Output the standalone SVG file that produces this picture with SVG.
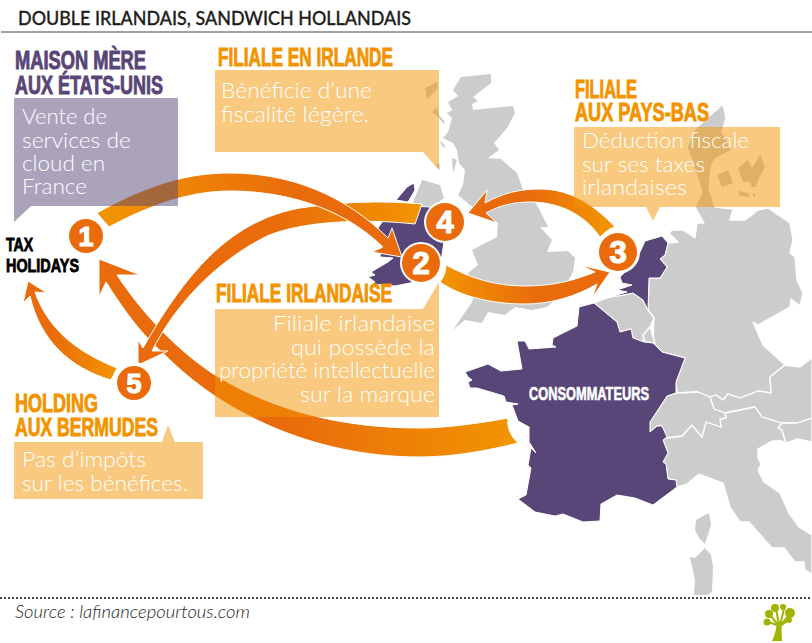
<svg xmlns="http://www.w3.org/2000/svg" width="812" height="643" viewBox="0 0 812 643">
<style>
.g{fill:#ccc;stroke:none}
.b{fill:#ccc;stroke:#fff;stroke-width:1.3;stroke-linejoin:round}
.p{fill:#584678;stroke:#fff;stroke-width:1}
.o{fill:#f29400;fill-opacity:.5}
.v{fill:#584678;fill-opacity:.5}
.h{font-family:"Liberation Sans Narrow","Liberation Sans",sans-serif;font-weight:700;font-size:25px;fill:#f29400;stroke:#f29400;stroke-width:.9}
.hv{fill:#584678;stroke:#584678}
.t{font-family:"Lato","Open Sans",sans-serif;font-weight:300;font-size:22px;fill:#fff}
.k{font-family:"Liberation Sans Narrow","Liberation Sans",sans-serif;font-weight:700;font-size:18px}
.a{stroke:#fff;stroke-width:1;stroke-linejoin:miter}
.d{font-family:"Liberation Sans Narrow","Liberation Sans",sans-serif;font-weight:700;font-size:31px;fill:#fff;text-anchor:middle;stroke:#fff;stroke-width:1.2}
</style>
<defs>
<linearGradient id="g1" gradientUnits="userSpaceOnUse" x1="105" y1="0" x2="300" y2="0"><stop offset="0" stop-color="#f29400"/><stop offset="1" stop-color="#e96b0c"/></linearGradient>
<linearGradient id="g4" gradientUnits="userSpaceOnUse" x1="420" y1="0" x2="270" y2="0"><stop offset="0" stop-color="#f29400"/><stop offset="1" stop-color="#e96b0c"/></linearGradient>
<linearGradient id="gc" gradientUnits="userSpaceOnUse" x1="515" y1="0" x2="280" y2="0"><stop offset="0" stop-color="#f29400"/><stop offset="1" stop-color="#e96b0c"/></linearGradient>
<linearGradient id="g5" gradientUnits="userSpaceOnUse" x1="115" y1="0" x2="50" y2="0"><stop offset="0" stop-color="#f29400"/><stop offset="1" stop-color="#e96b0c"/></linearGradient>
<linearGradient id="g2" gradientUnits="userSpaceOnUse" x1="442" y1="0" x2="540" y2="0"><stop offset="0" stop-color="#f29400"/><stop offset="1" stop-color="#e96b0c"/></linearGradient>
<linearGradient id="g3" gradientUnits="userSpaceOnUse" x1="610" y1="0" x2="530" y2="0"><stop offset="0" stop-color="#f29400"/><stop offset="1" stop-color="#e96b0c"/></linearGradient>
</defs>
<rect width="812" height="643" fill="#fff"/>

<g id="map">
<polygon class="g" points="461,77 491,74 491,83 473,97 478,101 472,104 473,110 513,106 515,113 507,128 494,143 499,150 488,158 501,159 517,173 523,190 537,205 548,227 540,227 552,240 547,252 568,251 575,258 573,272 560,295 547,307 532,310 515,307 505,315 488,312 482,323 465,320 453,330 472,302 476,290 468,273 478,265 472,250 497,237 498,223 470,205 458,195 463,185 465,170 459,163 457,150 453,143 443,138 448,132 452,118 447,113 452,110 448,102 458,96 453,90"/>
<polygon class="g" points="425,88 437,82 438,88 427,99"/>
<polygon class="g" points="432,112 437,107 439,115 445,122 444,124 437,116"/>
<polygon class="g" points="440,140 445,146 444,148 441,144"/>
<polygon class="g" points="452,158 457,160 453,173"/>
<polygon class="g" points="436,166 439,162 440,170"/>
<polygon class="g" points="422,180 440,185 444,198 430,208 412,205 418,190"/>
<polygon class="p" stroke="none" points="414,183 415,190 408,202 396,200 402,193 407,187"/>
<polygon class="p" points="380,225 394,205 430,207 445,235 441,262 425,280 395,286 372,284 375,282 368,277 375,275 371,272 388,262 393,258 380,257 382,238 378,228"/>
<polygon class="b" points="723,104 726,118 722,132 732,150 715,159 711,167 709,188 715,207 733,209 730,220 745,220 758,210 768,208 790,223 793,240 790,253 795,257 797,280 803,293 800,306 791,299 790,307 758,325 753,322 763,345 785,365 770,377 771,393 758,391 740,398 728,394 723,400 716,395 710,397 698,392 677,393 676,382 685,358 662,352 653,343 654,318 648,310 649,278 660,278 667,267 660,259 665,255 668,243 678,242 669,233 672,230 683,230 695,238 697,223 704,223 695,207 702,192 693,163 687,147 695,129"/>
<polygon class="g" points="717,175 728,170 733,183 722,187"/>
<polygon class="g" points="738,168 748,160 752,168 760,155 765,167 758,180 756,187 752,187 750,182 743,182"/>
<polygon class="g" points="738,191 748,193 750,197 740,196"/>
<polygon class="g" points="752,193 755,194 755,198"/>
<polygon class="b" points="785,365 800,367 812,358 812,418 797,423 782,423 762,417 755,407 725,413 714,409 710,397 716,395 723,400 728,394 740,398 758,391 771,393 770,377"/>
<polygon class="b" points="725,413 755,407 762,417 782,423 778,428 782,430 786,443 782,441 772,441 758,449 758,458 761,464 758,470 764,482 780,493 789,513 799,527 812,535 812,574 805,570 804,562 795,562 784,548 772,548 749,522 740,522 730,507 723,483 699,474 687,484 677,487 676,480 668,479 666,464 663,462 668,453 663,440 665,438 682,436 692,425 702,437 706,422 721,427 720,419 726,418"/>
<polygon class="b" points="782,423 797,423 812,418 812,442 797,439 786,443 782,430 778,428"/>
<polygon class="b" points="667,396 677,393 698,392 710,397 714,409 725,413 726,418 720,419 721,427 706,422 702,437 692,425 682,436 665,438 662,426 657,426 650,432 650,422"/>
<polygon class="b" points="594,303 610,297 623,295 633,293 643,300 648,310 654,318 650,327 643,335 644,342 633,338 631,329 620,332 617,322"/>
<polygon class="b" points="650,327 643,335 645,342 655,343"/>
<polygon class="g" points="696,520 709,513 711,525 705,544 699,538 695,530"/>
<polygon class="g" points="705,548 711,555 713,567 712,592 707,595 694,595 695,580 690,557 695,558"/>
<polygon class="p" points="662,236 668,243 665,255 660,259 667,267 660,278 649,278 648,310 643,300 633,293 623,295 610,297 627,292 617,290 632,285 622,283 620,277 629,268 640,252 645,241"/>
</g>

<g id="france">
<polygon class="p" points="594,303 617,322 620,332 631,329 633,338 644,342 653,343 662,352 685,358 676,382 676,393 667,396 650,422 650,432 657,426 662,426 667,437 663,440 668,453 663,462 666,464 668,479 676,480 677,487 653,505 635,498 617,495 601,504 600,521 583,522 563,514 555,516 535,512 518,499 526,495 531,468 528,465 531,448 536,453 529,442 529,427 518,421 512,405 518,404 506,402 504,396 477,388 470,388 468,382 472,380 468,377 465,372 488,364 501,371 522,369 517,341 525,341 529,349 556,347 552,345 553,338 577,326 579,307"/>
<text x="529" y="400" class="k" fill="#fff" stroke="#fff" stroke-width=".6" textLength="120" lengthAdjust="spacingAndGlyphs">CONSOMMATEURS</text>
</g>

<g id="title">
<text x="18" y="25" font-family="Lato,'Open Sans',sans-serif" font-weight="500" font-size="19.5" fill="#1d1d1b" stroke="#1d1d1b" stroke-width=".3" textLength="393" lengthAdjust="spacingAndGlyphs">DOUBLE IRLANDAIS, SANDWICH HOLLANDAIS</text>
<line x1="1" y1="32" x2="812" y2="32" stroke="#444" stroke-width="1"/>
</g>

<g id="connectors">
<path class="a" fill="url(#gc)" d="M508,418 C470,425 440,428 420,428 C340,428 275,410 220,378 C190,360 150,325 117,275 L140,275 L99,259 L99,297 L106,282 C130,320 145,337 167,357 C220,410 310,457 420,457 C455,457 490,450 518,443 C510,435 507,428 508,418 Z"/>
<path class="a" fill="url(#g4)" d="M422,204 C380,200 340,202 300,208 C235,220 190,265 143,348 L138,340 L138,365 L168,351 L152,351 C175,305 215,262 267,236 C300,222 360,218 415,224 Z"/>
<path class="a" fill="url(#g1)" d="M97,213 C150,183 190,173 230,173 C290,173 345,195 388,238 L392,228 L402,257 L372,252 L383,247 C340,205 280,191 230,191 C190,191 150,205 109,227 Z"/>
<path class="a" fill="url(#g5)" d="M117,368 C85,355 50,335 35,292 L47,293 L28,281 L23,303 L30,296 C40,340 70,368 111,380 Z"/>
<path class="a" fill="url(#g2)" d="M446,265 C470,278 495,286 525,286 C555,286 575,280 595,272 L580,265 L610,272 L592,298 L597,284 C575,297 550,304 525,304 C490,304 460,296 440,282 C444,277 446,271 446,265 Z"/>
<path class="a" fill="url(#g3)" d="M615,227 C590,200 565,189 540,189 C520,189 503,193 485,203 L487,190 L468,213 L497,223 L486,213 C500,205 515,202 530,202 C560,202 585,215 600,237 C605,232 610,228 615,227 Z"/>
</g>

<g id="node-maison-mere">
<polygon class="v" points="14,98 178,98 178,206 31,206 14,222"/>
<text class="h hv" x="15" y="69" textLength="131" lengthAdjust="spacingAndGlyphs">MAISON MÈRE</text>
<text class="h hv" x="15" y="94" textLength="148" lengthAdjust="spacingAndGlyphs">AUX ÉTATS-UNIS</text>
<text class="t" x="22" y="124" textLength="85" lengthAdjust="spacingAndGlyphs">Vente de</text>
<text class="t" x="22" y="148" textLength="109" lengthAdjust="spacingAndGlyphs">services de</text>
<text class="t" x="22" y="171" textLength="83" lengthAdjust="spacingAndGlyphs">cloud en</text>
<text class="t" x="22" y="194" textLength="65" lengthAdjust="spacingAndGlyphs">France</text>
</g>

<g id="node-filiale-irlande">
<polygon class="o" points="215,70 439,70 439,170 423,152 215,152"/>
<text class="h" x="218" y="66" textLength="175" lengthAdjust="spacingAndGlyphs">FILIALE EN IRLANDE</text>
<text class="t" x="221" y="98" textLength="151" lengthAdjust="spacingAndGlyphs">Bénéficie d’une</text>
<text class="t" x="221" y="122" textLength="148" lengthAdjust="spacingAndGlyphs">fiscalité légère.</text>
</g>

<g id="node-filiale-irlandaise">
<polygon class="o" points="215,309 423,309 439,282 439,417 215,417"/>
<text class="h" x="216" y="302" textLength="176" lengthAdjust="spacingAndGlyphs">FILIALE IRLANDAISE</text>
<text class="t" x="273" y="331" textLength="162" lengthAdjust="spacingAndGlyphs">Filiale irlandaise</text>
<text class="t" x="291" y="355" textLength="144" lengthAdjust="spacingAndGlyphs">qui possède la</text>
<text class="t" x="219" y="378" textLength="216" lengthAdjust="spacingAndGlyphs">propriété intellectuelle</text>
<text class="t" x="300" y="402" textLength="135" lengthAdjust="spacingAndGlyphs">sur la marque</text>
</g>

<g id="node-pays-bas">
<polygon class="o" points="574,127 780,127 780,207 660,207 653,221 646,207 574,207"/>
<text class="h" x="575" y="98" textLength="62" lengthAdjust="spacingAndGlyphs">FILIALE</text>
<text class="h" x="575" y="121" textLength="134" lengthAdjust="spacingAndGlyphs">AUX PAYS-BAS</text>
<text class="t" x="582" y="148" textLength="167" lengthAdjust="spacingAndGlyphs">Déduction fiscale</text>
<text class="t" x="582" y="172" textLength="123" lengthAdjust="spacingAndGlyphs">sur ses taxes</text>
<text class="t" x="582" y="195" textLength="105" lengthAdjust="spacingAndGlyphs">irlandaises</text>
</g>

<g id="node-bermudes">
<polygon class="o" points="14,442 162,442 168,425 175,442 203,442 203,499 14,499"/>
<text class="h" x="15" y="412" textLength="83" lengthAdjust="spacingAndGlyphs">HOLDING</text>
<text class="h" x="15" y="436" textLength="143" lengthAdjust="spacingAndGlyphs">AUX BERMUDES</text>
<text class="t" x="22" y="467" textLength="124" lengthAdjust="spacingAndGlyphs">Pas d’impôts</text>
<text class="t" x="22" y="491" textLength="166" lengthAdjust="spacingAndGlyphs">sur les bénéfices.</text>
</g>

<g id="node-tax-holidays">
<text class="k" x="6" y="251" fill="#000" stroke="#000" stroke-width=".8" textLength="27" lengthAdjust="spacingAndGlyphs">TAX</text>
<text class="k" x="6" y="272" fill="#000" stroke="#000" stroke-width=".8" textLength="73" lengthAdjust="spacingAndGlyphs">HOLIDAYS</text>
</g>

<g id="node-1"><circle cx="86" cy="236" r="21" fill="#fff"/><circle cx="86" cy="236" r="17" fill="#e96b0c"/><text class="d" x="86" y="245.500" style="font-size:27px">1</text></g>
<g id="node-2"><circle cx="421" cy="263" r="21" fill="#fff"/><circle cx="421" cy="263" r="19" fill="#e96b0c"/><text class="d" x="421" y="274">2</text></g>
<g id="node-3"><circle cx="618" cy="252" r="22" fill="#fff"/><circle cx="618" cy="252" r="19" fill="#e96b0c"/><text class="d" x="618" y="263">3</text></g>
<g id="node-4"><circle cx="445" cy="222" r="21" fill="#fff"/><circle cx="445" cy="222" r="19" fill="#e96b0c"/><text class="d" x="445" y="233">4</text></g>
<g id="node-5"><circle cx="134" cy="383" r="21" fill="#fff"/><circle cx="134" cy="383" r="17" fill="#e96b0c"/><text class="d" x="134" y="392.500" style="font-size:27px">5</text></g>

<g id="footer">
<line x1="0" y1="598" x2="812" y2="598" stroke="#444" stroke-width="2" stroke-dasharray="2 2"/>
<text x="15" y="618" font-family="Lato,'Open Sans',sans-serif" font-weight="300" font-style="italic" font-size="18" fill="#1d1d1b" textLength="235" lengthAdjust="spacingAndGlyphs">Source : lafinancepourtous.com</text>
<g fill="#a0b400">
<path d="M772,641 C775,635 776,630 777,622 L782,622 C781,630 782,636 782,641 Z"/>
<circle cx="775" cy="608" r="4"/><circle cx="769" cy="614" r="4"/><circle cx="767" cy="622" r="3.5"/><circle cx="783" cy="607" r="3"/><circle cx="790" cy="613" r="5"/><circle cx="789" cy="620" r="3"/>
<path d="M780,626 L768,622 M779,626 L770,615 M779,625 L776,609 M780,625 L784,609 M780,626 L790,614 M780,626 L789,620" stroke="#a0b400" stroke-width="2" fill="none"/>
</g>
</g>
</svg>
